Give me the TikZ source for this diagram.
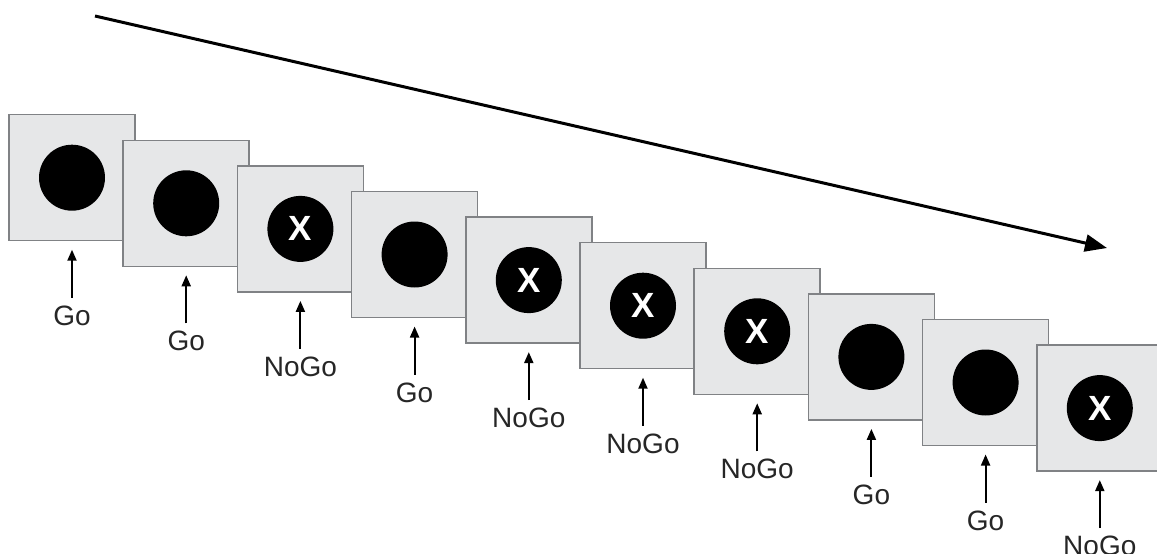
\documentclass[tikz,border=0pt]{standalone}
\usepackage{fontspec}
\setmainfont{Liberation Sans}
\usetikzlibrary{arrows.meta,calc}
\definecolor{boxfill}{HTML}{E6E7E8}
\definecolor{boxline}{HTML}{808285}
\tikzset{
  stim/.style={draw=boxline, fill=boxfill, line width=1.5pt, minimum size=126pt, inner sep=0pt, outer sep=0pt},
  dot/.style={circle, fill=black, minimum size=66pt, inner sep=0pt, text=white, font=\bfseries\fontsize{35}{37}\selectfont},
  lbl/.style={font=\fontsize{28}{30}\selectfont, inner sep=0pt, text=black!85},
  up/.style={-{Triangle[length=11pt,width=9pt]}, line width=2pt},
  timeline/.style={-{Triangle[length=22pt,width=17pt]}, line width=3pt}
}
\begin{document}
\begin{tikzpicture}[x=1pt,y=-1pt]
\useasboundingbox (0,0) rectangle (1157,554);
\foreach \i/\t/\x in {0/Go/,1/Go/,2/NoGo/X,3/Go/,4/NoGo/X,5/NoGo/X,6/NoGo/X,7/Go/,8/Go/,9/NoGo/X}{
  \node[stim] (b\i) at ({72+114.2*\i},{177.7+25.6*\i}) {};
  \node[dot] (c\i) at (b\i.center) {\x};
  \coordinate (t\i) at ($(b\i.south)+(0,57)$);
  \coordinate (h\i) at ($(b\i.south)+(0,9)$);
  \node[lbl] (l\i) at ($(b\i.center)+(0,138)$) {\t};
  \draw[up] (t\i) -- (h\i);
}
\coordinate (s) at (95,16);
\coordinate (e) at (1107,248);
\draw[timeline] (s) -- (e);
\end{tikzpicture}
\end{document}
